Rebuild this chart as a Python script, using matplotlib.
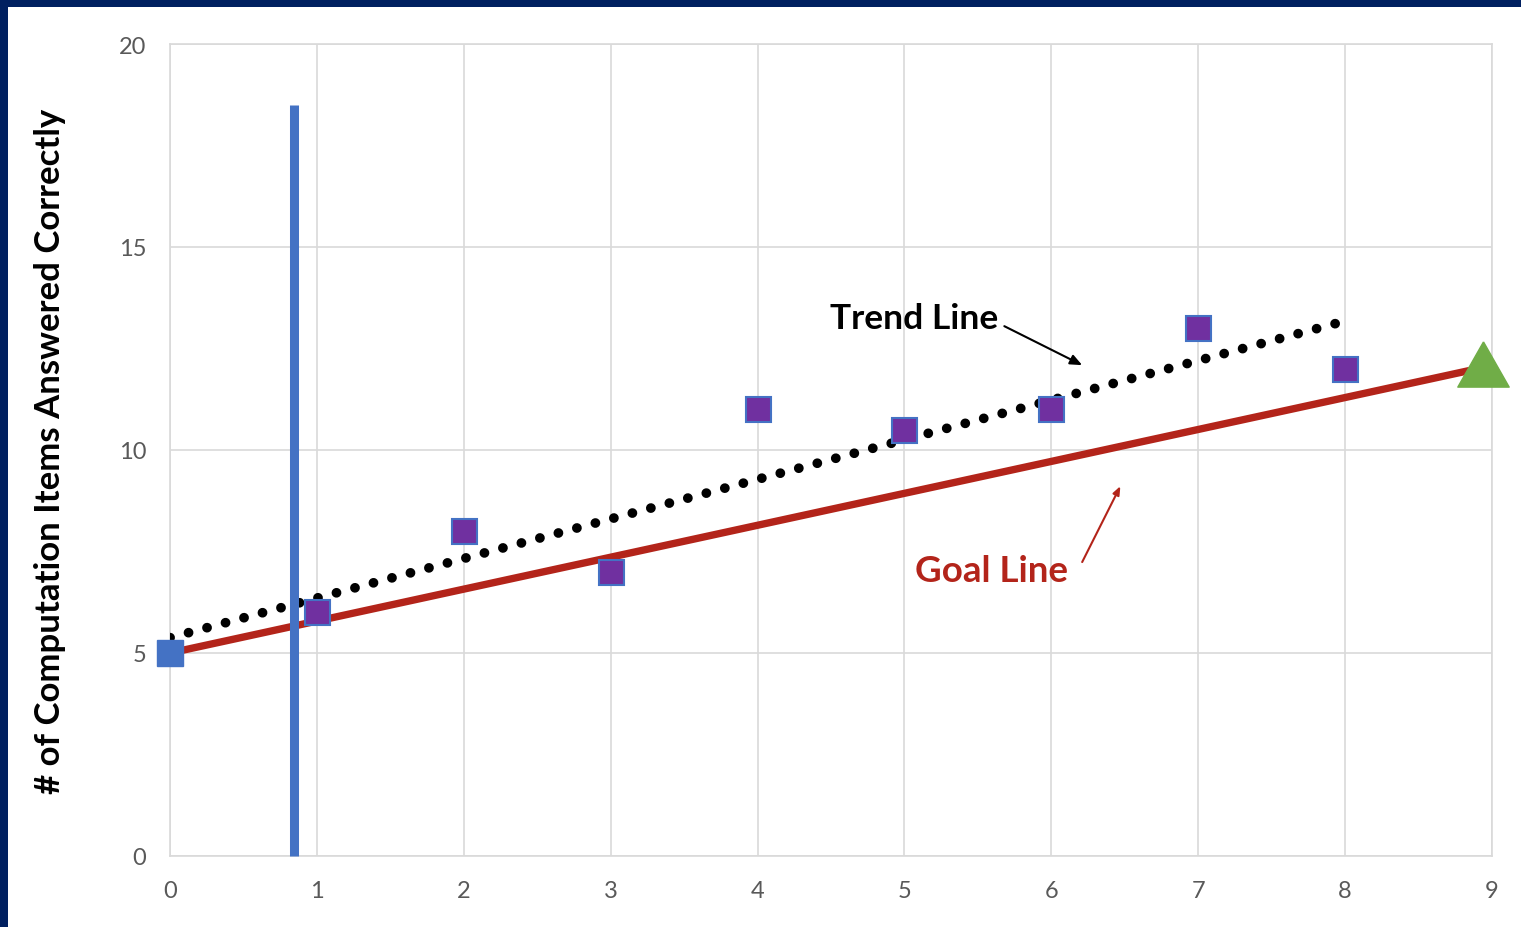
import numpy as np
import matplotlib
matplotlib.use("Agg")
import matplotlib.pyplot as plt
from matplotlib.patches import Rectangle

# Weekly probe scores
weeks = [0, 1, 2, 3, 4, 5, 6, 7, 8]
scores = [5, 6, 8, 7, 11, 10.5, 11, 13, 12]

# Goal line: baseline to target
goal_x = [0, 8.9]
goal_y = [5, 12]
target_x, target_y = 8.94, 12.12

# Phase change marker
phase_x = 0.845
phase_top = 18.5

x_ticks = list(range(0, 10))
y_ticks = [0, 5, 10, 15, 20]

NAVY = "#002060"
BLUE = "#4472C4"
PURPLE = "#7030A0"
RED = "#B3241A"
GREEN = "#70AD47"
GRID = "#D9D9D9"
TICK = "#595959"

plt.rcParams["font.family"] = ["Lato", "DejaVu Sans"]

W, H = 1521, 928
fig = plt.figure(figsize=(W / 100, H / 100), dpi=100, facecolor="white")
# navy frame along the top and left edges
fig.patches.append(Rectangle((0, 1 - 8 / H), 1, 8 / H, transform=fig.transFigure,
                             facecolor=NAVY, edgecolor="none"))
fig.patches.append(Rectangle((0, 0), 8 / W, 1, transform=fig.transFigure,
                             facecolor=NAVY, edgecolor="none"))

ax = fig.add_axes([170 / W, (H - 857) / H, (1492 - 170) / W, (857 - 45) / H])
ax.set_facecolor("white")
ax.set_xlim(0, 9)
ax.set_ylim(0, 20)
ax.set_xticks(x_ticks)
ax.set_yticks(y_ticks)
ax.grid(True, color=GRID, linewidth=1.2, zorder=0)
for s in ax.spines.values():
    s.set_color(GRID)
    s.set_linewidth(1.2)
ax.tick_params(length=0, labelsize=17, labelcolor=TICK)
ax.tick_params(axis="y", pad=17)
ax.tick_params(axis="x", pad=17)
ax.set_axisbelow(True)

# Trend line from least squares fit
slope, intercept = np.polyfit(weeks, scores, 1)
tx = np.array([weeks[0], weeks[-1]])
ax.plot(tx, intercept + slope * tx, color="black", linewidth=7,
        linestyle=(0, (0.01, 1.96)), dash_capstyle="round", zorder=3)

# Goal line
ax.plot(goal_x, goal_y, color=RED, linewidth=5.3, solid_capstyle="butt", zorder=2)

# Phase change line
ax.plot([phase_x, phase_x], [0, phase_top], color=BLUE, linewidth=6.5,
        solid_capstyle="butt", zorder=4, clip_on=False)

# Data points
ax.plot(weeks[1:], scores[1:], linestyle="none", marker="s", markersize=18,
        markerfacecolor=PURPLE, markeredgecolor=BLUE, markeredgewidth=1.5, zorder=5)
ax.plot(weeks[:1], scores[:1], linestyle="none", marker="s", markersize=19,
        markerfacecolor=BLUE, markeredgecolor=BLUE, zorder=5, clip_on=False)

# Target marker
tri = [(0, 0.88), (-1, -0.88), (1, -0.88), (0, 0.88)]
ax.plot([target_x], [target_y], linestyle="none", marker=tri, markersize=37,
        markerfacecolor=GREEN, markeredgecolor=GREEN, zorder=6, clip_on=False)

# Annotations
ax.annotate("", xy=(6.21, 12.09), xytext=(5.68, 13.05),
            arrowprops=dict(arrowstyle="-|>,head_length=0.7,head_width=0.3",
                            color="black", linewidth=1.5, shrinkA=0, shrinkB=0), zorder=7)
ax.text(4.49, 13.25, "Trend Line", fontsize=25.5, fontweight="bold", color="black",
        ha="left", va="center", zorder=7)

ax.annotate("", xy=(6.47, 9.11), xytext=(6.21, 7.24),
            arrowprops=dict(arrowstyle="-|>,head_length=0.5,head_width=0.2",
                            color=RED, linewidth=1.5, shrinkA=0, shrinkB=0), zorder=7)
ax.text(5.07, 7.02, "Goal Line", fontsize=26.5, fontweight="bold", color=RED,
        ha="left", va="center", zorder=7)

fig.text(50 / W, 1 - 451 / H, "# of Computation Items Answered Correctly",
         rotation=90, fontsize=25, fontweight="bold", color="black",
         ha="center", va="center")

fig.savefig("out.png", dpi=100)
